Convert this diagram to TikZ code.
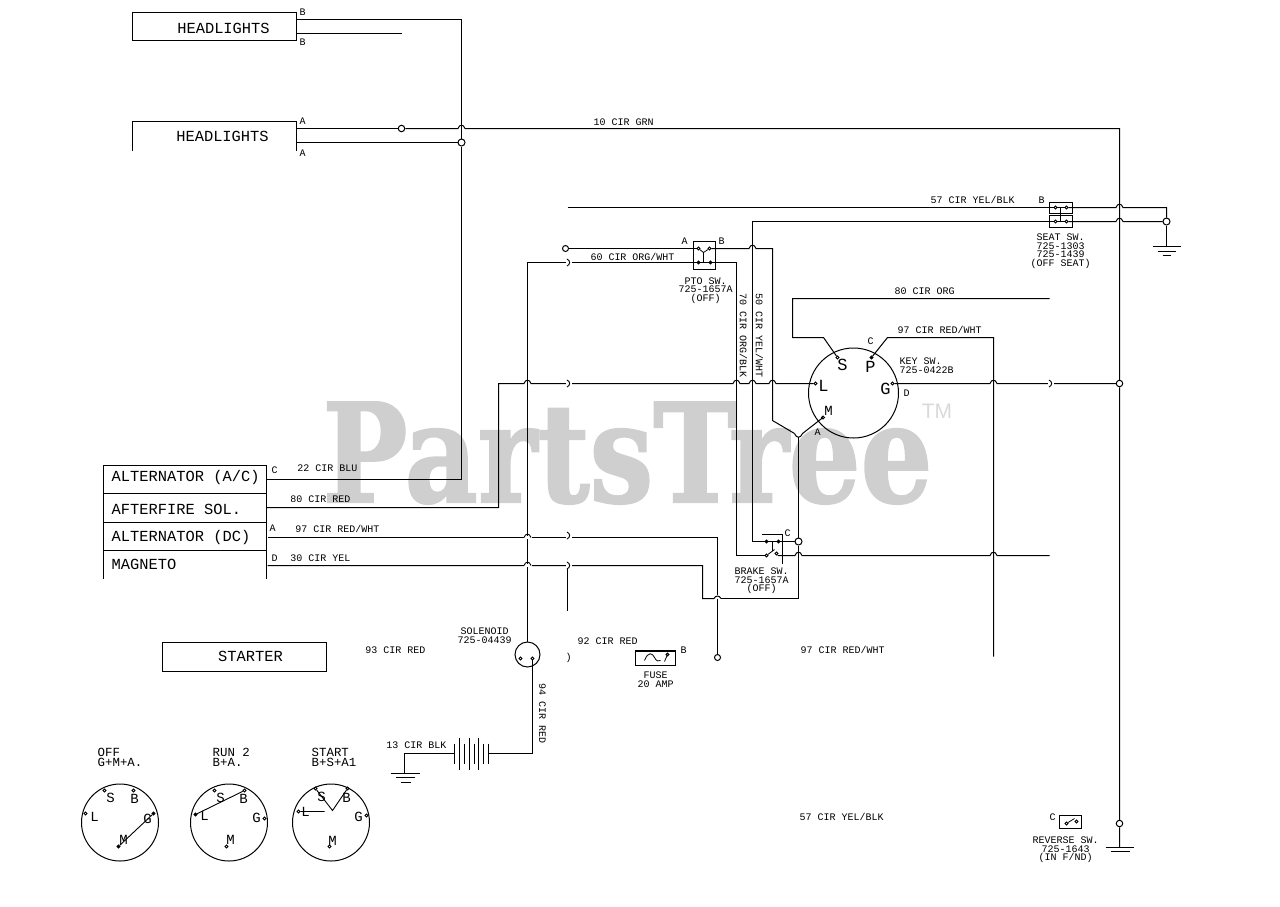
\documentclass[tikz,border=0pt]{standalone}
\usepackage{fontspec}
\setmainfont{Liberation Mono}
\newfontfamily\wmfont[BoldFeatures={FakeBold=1.6}]{DejaVu Serif}
\newfontfamily\tmfont{Liberation Sans}
\def\hx#1#2{-- (#1-3.5,#2) .. controls (#1-2,#2-4.5) and (#1+2,#2-4.5) .. (#1+3.5,#2)}
\tikzset{
  wire/.style={draw=black,line width=1pt},
  box/.style={draw=black,line width=1pt},
  lbl/.style={inner sep=0pt,font=\fontsize{10}{8.6}\selectfont,align=center},
  big/.style={inner sep=0pt,font=\fontsize{15.4}{16}\selectfont},
  mid/.style={inner sep=0pt,font=\fontsize{12.4}{10}\selectfont,align=left},
  let/.style={inner sep=0pt,font=\fontsize{17}{17}\selectfont},
  dlet/.style={inner sep=0pt,font=\fontsize{14}{14}\selectfont},
  term/.style={circle,draw=black,line width=0.8pt,minimum size=3pt,inner sep=0pt},
  junc/.style={circle,draw=black,fill=white,line width=1pt,minimum size=7pt,inner sep=0pt},
  gnd/.style={line width=1pt}
}
\begin{document}
\begin{tikzpicture}[x=1pt,y=-1pt]
\useasboundingbox (0,0) rectangle (1280,906);
% watermark
\node[inner sep=0pt,anchor=base,text=black!19,font=\wmfont\bfseries\fontsize{137}{137}\selectfont,xscale=0.825] (wm) at (627.5,502) {PartsTree};
\node[inner sep=0pt,text=black!15,font=\tmfont\fontsize{21}{21}\selectfont] (tm) at (937,411) {TM};
\begin{scope}[shift={(0.5,0.5)}]
% headlights B
\draw[box] (132,12) rectangle (296,40);
\node[big] (hl1) at (223,27.5) {HEADLIGHTS};
\node[lbl] (hlb1) at (302,12) {B};
\node[lbl] (hlb2) at (302,42) {B};
\draw[wire] (296,33) -- (401,33);
% headlights A
\draw[box] (132,150) -- (132,121) -- (296,121) -- (296,150);
\node[big] (hl2) at (222,136) {HEADLIGHTS};
\node[lbl] (hla1) at (302,121) {A};
\node[lbl] (hla2) at (302,153) {A};
\node[junc,minimum size=6.5pt] (c401) at (401,128) {};
\node[junc] (j461) at (461,142) {};
\draw[wire] (296,128) -- (c401);
\draw[wire] (296,142) -- (j461);
\node[lbl] (w10) at (623,122) {10 CIR GRN};
\node[junc,minimum size=6.5pt] (j383) at (1119,383) {};
\node[junc,minimum size=6.5pt] (j823) at (1119,823) {};
\coordinate (rgnd) at (1119,847);
\draw[wire] (c401) \hx{461}{128} -- (1119,128) -- (j383) -- (j823) -- (rgnd);
\draw[gnd] (1105,847) -- (1133,847) (1110,851) -- (1129,851);
% A/C wire up to headlights
\coordinate (ac) at (266,479);
\draw[wire] (296,19) -- (461,19) -- (j461) -- (461,479) -- (ac);

% alternator table
\draw[box] (103,578) -- (103,465) -- (266,465) -- (266,578);
\draw[box] (103,493) -- (266,493) (103,522) -- (266,522) (103,550) -- (266,550);
\node[big,anchor=west] (t1) at (111,477) {ALTERNATOR (A/C)};
\node[big,anchor=west] (t2) at (111,509) {AFTERFIRE SOL.};
\node[big,anchor=west] (t3) at (111,537) {ALTERNATOR (DC)};
\node[big,anchor=west] (t4) at (111,564) {MAGNETO};
\node[lbl] (lc) at (274,470) {C};
\node[lbl] (la) at (272,528) {A};
\node[lbl] (ld) at (274,558) {D};
\node[lbl] (l22) at (327,468) {22 CIR BLU};
\node[lbl] (l80) at (320,499) {80 CIR RED};
\node[lbl] (l97) at (337,528) {97 CIR RED/WHT};
\node[lbl] (l30) at (320,558) {30 CIR YEL};

% 80 CIR RED wire and key bus
\node[term] (tL) at (815,383) {};
\node[term] (tG) at (892,383) {};
\draw[wire] (266,507) -- (498,507) -- (498,383) \hx{527}{383} \hx{736}{383} \hx{752}{383} \hx{772}{383} -- (tL);
\draw[wire] (tG) \hx{993}{383} -- (j383);
% main vertical to solenoid
\node[circle,draw,line width=1pt,minimum size=25pt,inner sep=0pt] (sol) at (527,654) {};
\draw[wire] (736,555) -- (736,262) -- (527,262) -- (sol);
% PTO switch
\draw[box] (693,241) rectangle (715,269);
\node[term] (p1) at (698,248) {};
\node[term] (p2) at (709,248) {};
\node[term] (p3) at (698,262) {};
\node[term] (p4) at (710,262) {};
\draw[line width=0.8pt] (p1) -- (703,252) -- (p2) (703,252) -- (703,262) (p3) -- (p4);
\node[lbl] (pa) at (684,241) {A};
\node[lbl] (pb) at (721,241) {B};
\node[lbl] (pt) at (705,290) {PTO SW.\\725-1657A\\(OFF)};
\node[junc,minimum size=6pt] (c565) at (565,248) {};
\draw[wire] (c565) -- (p1);
\draw[wire] (p2) \hx{752}{248} -- (772,248) -- (772,420) -- (794,433);
\draw[wire] (794,433) .. controls (796,438) and (800,438) .. (802,433) -- (822.5,417);
\node[lbl] (l60) at (632,256) {60 CIR ORG/WHT};
\node[lbl,rotate=270] (l70) at (743,335) {70 CIR ORG/BLK};
\node[lbl,rotate=270] (l50) at (759,335) {50 CIR YEL/WHT};
% top wires to seat
\node[junc] (j1166) at (1166,221) {};
\node[term] (s1) at (1055,207) {};
\node[term] (s2) at (1066,207) {};
\node[term] (s3) at (1055,221) {};
\node[term] (s4) at (1066,221) {};
\draw[box] (1049,202) rectangle (1072,213);
\draw[box] (1049,215) rectangle (1072,227);
\draw[line width=0.8pt] (1060,207) -- (1060,221) (s3) -- (s4) (s1) -- (s2);
\draw[wire] (567,207) -- (s1);
\draw[wire] (s2) \hx{1119}{207} -- (1166,207) -- (j1166);
\draw[wire] (j1166) -- (1166,246);
\draw[gnd] (1152,246) -- (1180,246) (1157,251) -- (1175,251) (1162,255) -- (1170,255);
\node[junc] (j798) at (798,541) {};
\draw[wire] (j798) -- (752,541) -- (752,221) -- (s3);
\draw[wire] (s4) \hx{1119}{221} -- (j1166);
\node[lbl] (l57) at (972,199) {57 CIR YEL/BLK};
\node[lbl] (sb) at (1041,200) {B};
\node[lbl] (st) at (1060,250.5) {SEAT SW.\\725-1303\\725-1439\\(OFF SEAT)};

% key switch
\node[circle,draw,line width=1pt,minimum size=90pt,inner sep=0pt] (key) at (853,392.5) {};
\node[term] (tS) at (837,357) {};
\node[term,fill=black] (tP) at (871,357) {};
\node[term] (tM) at (822.5,417) {};
\draw[wire] (1049,298) -- (792,298) -- (792,337) -- (823,337) -- (tS);
\draw[wire] (tP) -- (887,337) -- (993,337) -- (993,656);
\node[let] (kS) at (842,364) {S};
\node[let] (kP) at (870,366) {P};
\node[let] (kL) at (823,385) {L};
\node[let] (kG) at (885,388) {G};
\node[dlet] (kM) at (828,410) {M};
\node[lbl] (kA) at (817,432) {A};
\node[lbl] (kC) at (870,341) {C};
\node[lbl] (kD) at (906,393) {D};
\node[lbl,align=left,anchor=west] (kt) at (899,365) {KEY SW.\\725-0422B};
\node[lbl] (l80o) at (924,291) {80 CIR ORG};
\node[lbl] (l97r) at (939,329) {97 CIR RED/WHT};

% wires from engine block to brake area
\draw[wire] (798,436) -- (j798);
\node[term] (b1) at (766,541) {};
\node[term] (b2) at (778,541) {};
\node[term] (b3) at (766,555) {};
\node[term] (b4) at (776,553) {};
\draw[wire] (736,555) -- (b3);
\draw[wire] (752,541) -- (b1);
\draw[wire] (b2) -- (j798);
\draw[wire] (777,555) \hx{798}{555} \hx{993}{555} -- (1049,555);
\draw[line width=0.8pt] (b3) -- (774,549) (772,541) -- (772,551);
\draw[line width=0.9pt] (761,534) -- (782,534) -- (782,563);
\node[lbl] (bc) at (787,533) {C};
\node[lbl] (bt) at (761,580.5) {BRAKE SW.\\725-1657A\\(OFF)};
\draw[wire] (j798) -- (798,598) -- (720.5,598);
\draw[wire] (720.5,598) .. controls (719,595) and (715,594.5) .. (713.5,598) -- (702,598) -- (702,565) -- (267,565);
\draw[wire] (267,537) -- (717,537);
\node[junc,minimum size=6pt] (c717) at (717,657) {};
\draw[wire] (717,537) -- (717,594) (717,598) -- (c717);
\draw[wire] (567,568) -- (567,610);
% small breaks
\foreach \xx/\yy in {568/262,568/383,568/535,568/565,1050/383}{
  \draw[line width=0.9pt,fill=white,draw=white] (\xx-2.5,\yy-1.5) rectangle (\xx+2.5,\yy+1.5);
  \draw[line width=0.9pt] (\xx-1.5,\yy-3.5) .. controls (\xx+2,\yy-2) and (\xx+2,\yy+2) .. (\xx-1.5,\yy+3.5);
}
% hops on main vertical x=527
\foreach \yy in {537,565}{
  \draw[line width=0.9pt,fill=white,draw=white] (523.5,\yy-0.8) rectangle (530.5,\yy+0.8);
  \draw[line width=0.9pt] (523.5,\yy) .. controls (525,\yy-4.5) and (529,\yy-4.5) .. (530.5,\yy);
}

% lower labels
\node[lbl] (l97b) at (842,649) {97 CIR RED/WHT};
\node[lbl] (l57b) at (841,816) {57 CIR YEL/BLK};
\node[lbl] (l92) at (607,641) {92 CIR RED};
\node[lbl] (l93) at (395,650) {93 CIR RED};
\node[lbl] (lsol) at (484,635) {SOLENOID\\725-04439};
\node[term] (sol1) at (520,658) {};
\node[term] (sol2) at (532,658) {};
\draw[wire] (sol2) -- (532,753) -- (488,753);
\node[lbl,rotate=270] (l94) at (542,713) {94 CIR RED};
% battery
\foreach \xx/\hh in {454/10,459/16,464/10,469/16,474/10,478/16,483/10,488/10}{
  \draw[line width=1pt] (\xx,753-\hh) -- (\xx,753+\hh);
}
\node[lbl] (l13) at (416,745) {13 CIR BLK};
\draw[wire] (454,753) -- (404,753) -- (404,773);
\draw[gnd] (390,773) -- (419,773) (395,777) -- (414,777) (400,782) -- (410,782);
% fuse
\draw[box] (635,650) rectangle (675,665);
\draw[line width=2pt] (635,650) -- (675,650);
\draw[line width=0.8pt] (644,660) .. controls (648,650) and (652,653) .. (654,657) .. controls (656,661) and (658,661) .. (660,660);
\draw[line width=0.8pt] (664,661) -- (667,654);
\node[term] (ft) at (667,654) {};
\node[lbl] (fb) at (683,650) {B};
\node[lbl] (fl) at (655,679) {FUSE\\20 AMP};
\node[inner sep=0pt,font=\fontsize{10}{10}\selectfont] (par) at (568,657) {)};
% starter
\draw[box] (162,642) rectangle (326,671);
\node[big] (st1) at (250,656) {STARTER};

% key position diagrams
\node[mid,anchor=west] (o1) at (97,757) {OFF\\G+M+A.};
\node[mid,anchor=west] (o2) at (212,757) {RUN 2\\B+A.};
\node[mid,anchor=west] (o3) at (311,757) {START\\B+S+A1};
\foreach \nm/\cx in {d1/119.5,d2/228.5,d3/330.5}{
  \node[circle,draw,line width=1pt,minimum size=77pt,inner sep=0pt] (\nm) at (\cx,822) {};
}
% 1
\node[term] (a1) at (104,790) {};\node[term] (a2) at (133,790) {};
\node[term] (a3) at (85,813) {};\node[term,fill=black] (a4) at (153,813) {};
\node[term,fill=black] (a5) at (118,846) {};
\draw[line width=0.9pt] (a4) -- (a5);
\node[dlet] (a1t) at (110,797) {S};\node[dlet] (a2t) at (134,798) {B};
\node[dlet] (a3t) at (94,816) {L};\node[dlet] (a4t) at (147,818) {G};
\node[dlet] (a5t) at (123,839) {M};
% 2
\node[term] (b11) at (214,790) {};\node[term] (b12) at (244,790) {};
\node[term,fill=black] (b13) at (195,814) {};\node[term] (b14) at (264,818) {};
\node[term] (b15) at (226,846) {};
\draw[line width=0.9pt] (b13) -- (b12);
\node[dlet] (b11t) at (220,797) {S};\node[dlet] (b12t) at (243,798) {B};
\node[dlet] (b13t) at (204,815) {L};\node[dlet] (b14t) at (256,817) {G};
\node[dlet] (b15t) at (230,839) {M};
% 3
\node[term] (c11) at (315,788) {};\node[term] (c12) at (347,788) {};
\node[term] (c13) at (298,811) {};\node[term] (c15) at (329,846) {};
\node[term] (c14) at (366,815) {};
\coordinate (c0) at (332,810);
\draw[line width=0.9pt] (c13) -- (324,811) (c11) -- (c0) -- (c12);
\node[dlet] (c11t) at (321,796) {S};\node[dlet] (c12t) at (346,797) {B};
\node[dlet] (c13t) at (305,811) {L};\node[dlet] (c14t) at (358,816) {G};
\node[dlet] (c15t) at (332,840) {M};
% reverse switch
\draw[box] (1059,815) rectangle (1081,828);
\node[term] (r1) at (1066,823) {};\node[term] (r2) at (1076,821) {};
\draw[line width=0.8pt] (r1) -- (1074,818);
\node[lbl] (rc) at (1052,817) {C};
\node[lbl] (rt) at (1065,849.5) {REVERSE SW.\\725-1643\\(IN F/ND)};
\end{scope}
\end{tikzpicture}
\end{document}
